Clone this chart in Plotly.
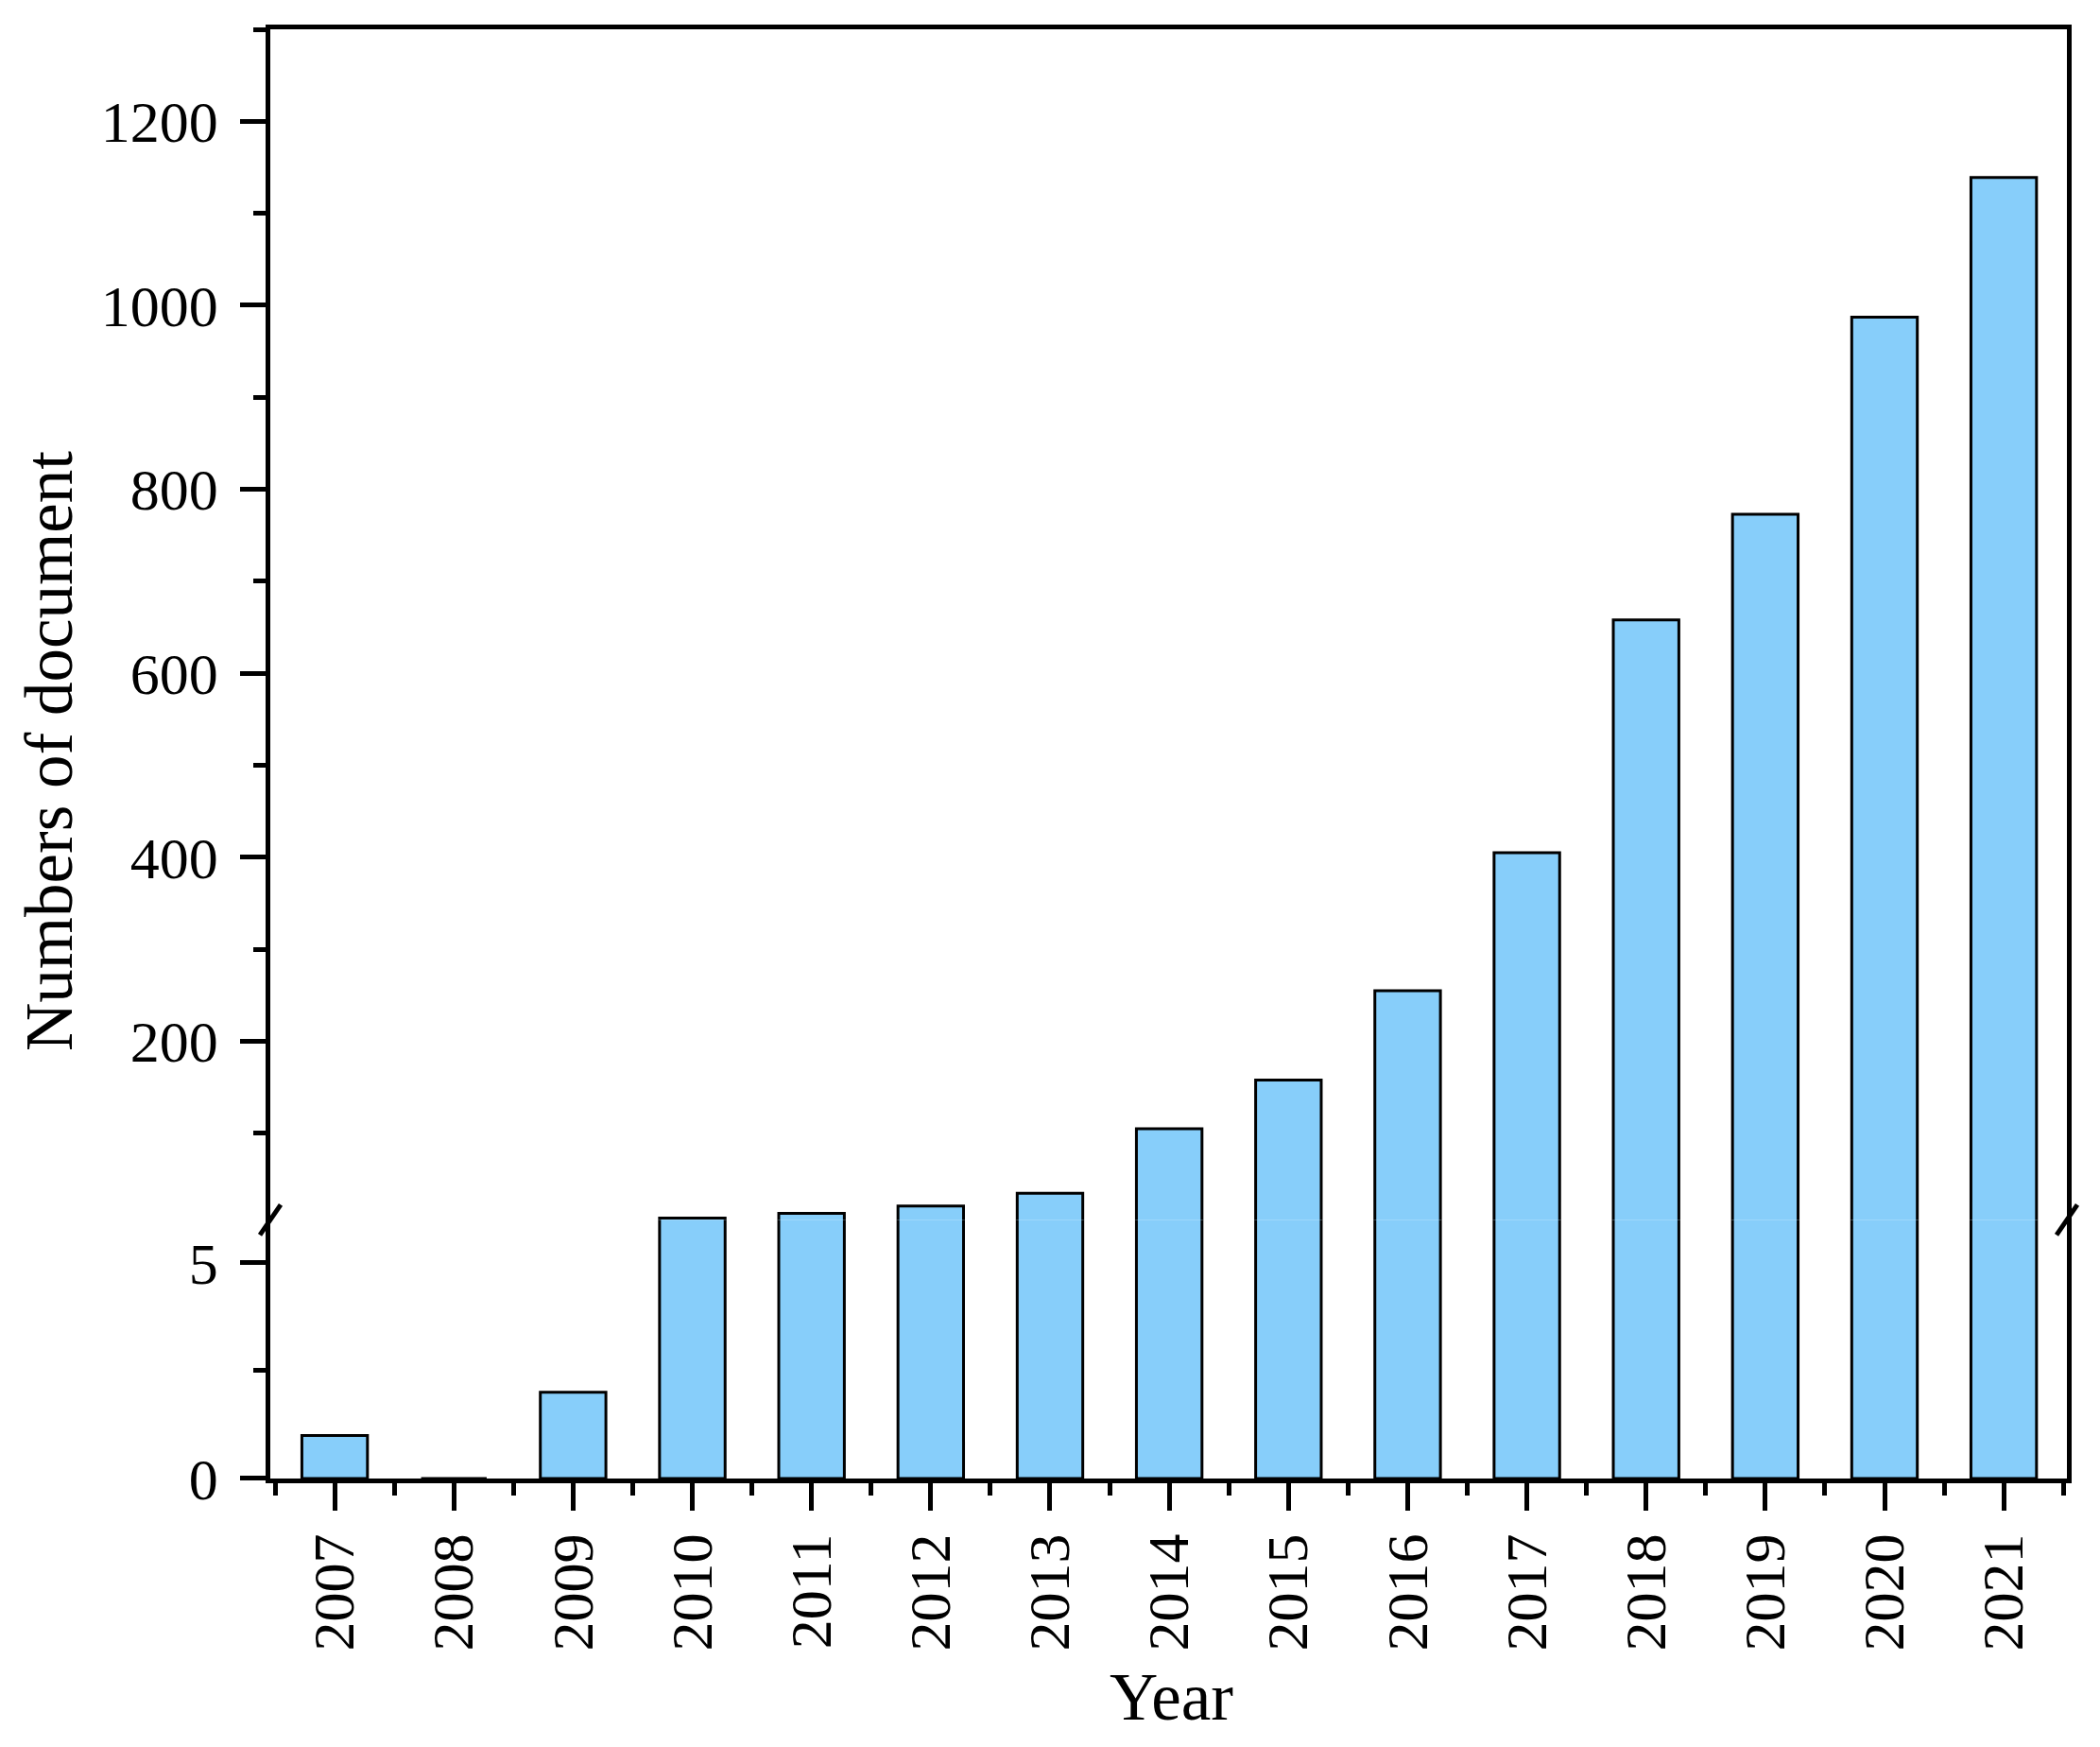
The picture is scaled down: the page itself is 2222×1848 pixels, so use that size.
import plotly.graph_objects as go

years = [2007, 2008, 2009, 2010, 2011, 2012, 2013, 2014, 2015, 2016, 2017, 2018, 2019, 2020, 2021]
documents = [1, 0, 2, 8, 13, 21, 35, 105, 158, 255, 405, 658, 773, 987, 1139]
year_labels = [str(y) for y in years]

lower_ticks = [0, 5]
upper_ticks = [200, 400, 600, 800, 1000, 1200]

BAR_COLOR = "#87CEFA"
FONT = "Liberation Serif"
OFF = 8  # default page body margin
W, H = 2222 - 2 * OFF, 1848 - 2 * OFF
L, R, T, B = 286 - OFF, 35 - OFF, 31 - OFF, 284 - OFF
SPLIT = 0.1785  # fraction of plot height for the lower (0-6) segment

fig = go.Figure()
bar_style = dict(marker=dict(color=BAR_COLOR, line=dict(color="black", width=3)),
                 width=0.55, showlegend=False, hoverinfo="x+y")
fig.add_trace(go.Bar(x=years, y=documents, xaxis="x", yaxis="y", **bar_style))
fig.add_trace(go.Bar(x=years, y=documents, xaxis="x2", yaxis="y2", **bar_style))

tickfont = dict(family=FONT, size=62, color="black")
xrange = [2006.46, 2021.53]
LW = 4.5

fig.update_layout(
    width=W, height=H,
    margin=dict(l=L, r=R, t=T, b=B, pad=0),
    paper_bgcolor="white", plot_bgcolor="white",
    xaxis=dict(
        domain=[0, 1], anchor="y", range=xrange, type="linear",
        tickvals=years, ticktext=year_labels, tickangle=-90,
        ticks="outside", ticklen=29, tickwidth=LW, tickcolor="black",
        minor=dict(tickvals=[y + 0.5 for y in [years[0] - 1] + years], ticks="outside",
                   ticklen=13, tickwidth=LW, tickcolor="black"),
        showline=True, linewidth=LW, linecolor="black", mirror=False,
        showgrid=False, zeroline=False, tickfont=tickfont, ticklabelstandoff=0,
    ),
    xaxis2=dict(
        domain=[0, 1], anchor="y2", range=xrange, type="linear", matches="x",
        side="top", showticklabels=False, ticks="",
        showline=True, linewidth=LW, linecolor="black", mirror=False,
        showgrid=False, zeroline=False,
    ),
    yaxis=dict(
        domain=[0, SPLIT], anchor="x", range=[0, 6],
        tickvals=lower_ticks, ticks="outside", ticklen=27, tickwidth=LW, tickcolor="black",
        minor=dict(dtick=2.5, tick0=0, ticks="outside", ticklen=13, tickwidth=LW, tickcolor="black"),
        showline=True, linewidth=LW, linecolor="black", mirror=True,
        showgrid=False, zeroline=False, tickfont=tickfont, ticklabelstandoff=11,
    ),
    yaxis2=dict(
        domain=[SPLIT, 1], anchor="x2", range=[6, 1300],
        tickvals=upper_ticks, ticks="outside", ticklen=27, tickwidth=LW, tickcolor="black",
        minor=dict(dtick=100, tick0=0, ticks="outside", ticklen=13, tickwidth=LW, tickcolor="black"),
        showline=True, linewidth=LW, linecolor="black", mirror=True,
        showgrid=False, zeroline=False, tickfont=tickfont, ticklabelstandoff=11,
    ),
)

plot_w = W - L - R
plot_h = H - T - B
bottom_page = 1848 - 284  # page y of the x axis

# axis-break marks on the left and right spines
for xa in (0, 1):
    fig.add_shape(type="line", xref="paper", yref="paper",
                  xsizemode="pixel", ysizemode="pixel", xanchor=xa, yanchor=SPLIT,
                  x0=-11, x1=11, y0=-16, y1=16,
                  line=dict(color="black", width=5))

fig.add_annotation(text="Numbers of document", xref="paper", yref="paper",
                   x=(52 - 286) / plot_w, y=(bottom_page - 795) / plot_h,
                   xanchor="center", yanchor="middle", textangle=-90, showarrow=False,
                   font=dict(family=FONT, size=71, color="black"))
fig.add_annotation(text="Year", xref="paper", yref="paper",
                   x=(1239 - 286) / plot_w, y=(bottom_page - 1795) / plot_h,
                   xanchor="center", yanchor="middle", showarrow=False,
                   font=dict(family=FONT, size=71, color="black"))

fig.write_html("out.html")
